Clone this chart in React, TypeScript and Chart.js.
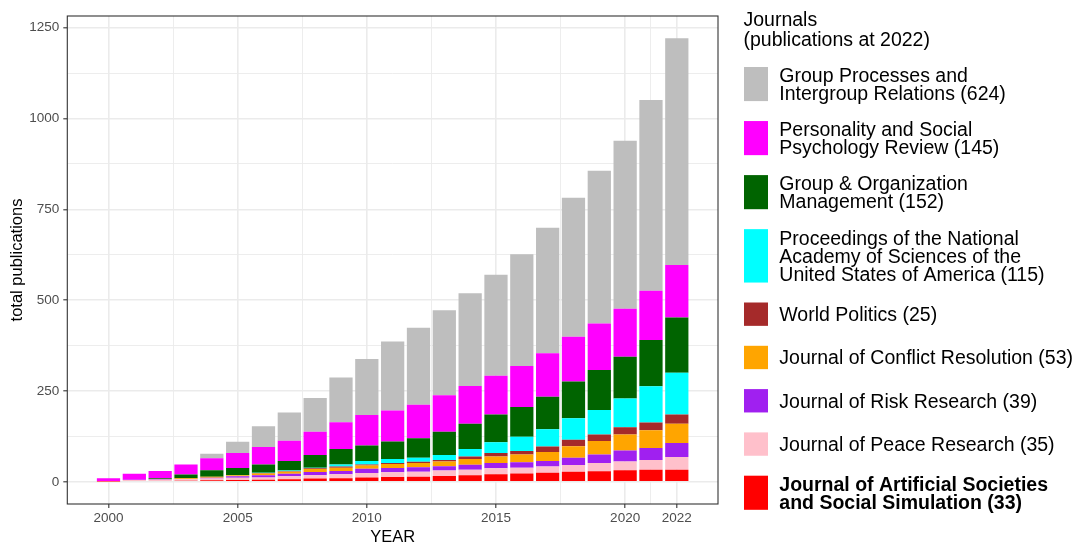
import React, { useEffect, useRef } from "react";
import { Chart, registerables } from "chart.js";

Chart.register(...registerables);

// ---------- data ----------
const years = [2000, 2001, 2002, 2003, 2004, 2005, 2006, 2007, 2008, 2009, 2010, 2011, 2012, 2013, 2014, 2015, 2016, 2017, 2018, 2019, 2020, 2021, 2022];

const jasss = [1, 2, 2, 3, 4, 5, 6, 7, 9, 10, 12, 13, 14, 16, 18, 21, 23, 25, 28, 29, 32, 33, 33];
const peaceResearch = [1, 3, 4, 4, 5, 6, 6, 8, 9, 11, 12, 13, 14, 15, 15, 16, 16, 17, 18, 23, 24, 27, 35];
const riskResearch = [0, 1, 1, 1, 2, 4, 6, 7, 9, 9, 12, 12, 12, 12, 14, 15, 15, 15, 20, 23, 30, 33, 39];
const conflictResolution = [0, 0, 1, 2, 3, 3, 5, 6, 8, 9, 9, 11, 12, 13, 16, 18, 21, 25, 32, 37, 44, 49, 53];
const worldPolitics = [0, 0, 0, 0, 0, 0, 1, 1, 2, 3, 3, 3, 3, 4, 7, 9, 10, 15, 18, 18, 20, 21, 25];
const pnas = [0, 0, 0, 0, 0, 1, 1, 2, 2, 6, 9, 11, 11, 14, 20, 30, 39, 48, 59, 68, 79, 100, 115];
const groupOrgMgmt = [0, 0, 2, 10, 18, 19, 23, 26, 35, 42, 43, 48, 54, 64, 70, 76, 82, 89, 101, 110, 115, 127, 152];
const pspr = [8, 16, 20, 28, 33, 41, 48, 56, 64, 74, 84, 85, 92, 100, 104, 107, 113, 120, 123, 128, 132, 136, 145];
const gpir = [0, 0, 0, 0, 12, 31, 57, 78, 93, 123, 154, 190, 212, 234, 255, 278, 307, 345, 383, 420, 463, 525, 624];

// series names (bottom of stack first), lines as shown in the legend
const seriesNames: string[][] = [
  ["Journal of Artificial Societies", "and Social Simulation"],
  ["Journal of Peace Research"],
  ["Journal of Risk Research"],
  ["Journal of Conflict Resolution"],
  ["World Politics"],
  ["Proceedings of the National", "Academy of Sciences of the", "United States of America"],
  ["Group & Organization", "Management"],
  ["Personality and Social", "Psychology Review"],
  ["Group Processes and", "Intergroup Relations"],
];
const seriesValues = [jasss, peaceResearch, riskResearch, conflictResolution, worldPolitics, pnas, groupOrgMgmt, pspr, gpir];

const xTickLabels = [2000, 2005, 2010, 2015, 2020, 2022];
const yTickLabels = [0, 250, 500, 750, 1000, 1250];

const xAxisTitle = "YEAR";
const yAxisTitle = "total publications";
const legendTitle = "Journals";

// ---------- styles ----------
const seriesColors = ["#FF0000", "#FFC0CB", "#A020F0", "#FFA500", "#A52A2A", "#00FFFF", "#006400", "#FF00FF", "#BEBEBE"];
const boldSeries = [true, false, false, false, false, false, false, false, false];
const FONT = "'Liberation Sans', Arial, sans-serif";

function midpoints(arr: number[]) {
  const out: number[] = [];
  for (let i = 0; i < arr.length - 1; i++) out.push((arr[i] + arr[i + 1]) / 2);
  return out;
}

const isIn = (arr: number[], v: number) => arr.some((a) => Math.abs(a - v) < 1e-6);

export default function App() {
  const ref = useRef<HTMLCanvasElement | null>(null);

  useEffect(() => {
    if (!ref.current) return;
    const xMinor = midpoints(xTickLabels);
    const yMinor = midpoints(yTickLabels);

    const xSpan = years[years.length - 1] - years[0] + 0.9;
    const xMin = years[0] - 0.45 - 0.05 * xSpan;
    const xMax = years[years.length - 1] + 0.45 + 0.05 * xSpan;
    const totals = years.map((_, i) => seriesValues.reduce((s, arr) => s + arr[i], 0));
    const yTop = Math.max(...totals);
    const yMin = -0.05 * yTop;
    const yMax = yTop * 1.05;

    const datasets = seriesValues.map((vals, k) => ({
      label: seriesNames[k].join(" "),
      data: years.map((y, i) => ({ x: y, y: vals[i] })),
      backgroundColor: seriesColors[k],
      borderWidth: 0,
      barPercentage: 0.9,
      categoryPercentage: 1,
    }));

    const overlay = {
      id: "ggOverlay",
      afterDatasetsDraw(chart: any) {
        const { ctx, chartArea } = chart;
        ctx.save();
        ctx.strokeStyle = "#333333";
        ctx.lineWidth = 1.1;
        ctx.strokeRect(chartArea.left, chartArea.top, chartArea.right - chartArea.left, chartArea.bottom - chartArea.top);
        ctx.restore();
      },
      afterDraw(chart: any) {
        const { ctx, chartArea } = chart;
        ctx.save();
        // axis titles
        ctx.fillStyle = "#000000";
        ctx.font = `16.5px ${FONT}`;
        ctx.textAlign = "center";
        ctx.textBaseline = "alphabetic";
        ctx.fillText(xAxisTitle, (chartArea.left + chartArea.right) / 2, 542);
        ctx.save();
        ctx.translate(21.5, (chartArea.top + chartArea.bottom) / 2);
        ctx.rotate(-Math.PI / 2);
        ctx.fillText(yAxisTitle, 0, 0);
        ctx.restore();

        // legend
        const lx = 743.5;
        ctx.textAlign = "left";
        ctx.font = `19.5px ${FONT}`;
        ctx.fillText(legendTitle, lx, 26);
        ctx.fillText(`(publications at ${years[years.length - 1]})`, lx, 45.5);

        const keyH: Record<number, number> = { 1: 23.35, 2: 34.1, 3: 53.4 };
        const gap = 19.95;
        const lineStep = 18;
        let top = 67;
        for (let k = seriesValues.length - 1; k >= 0; k--) {
          const vals = seriesValues[k];
          const lines = seriesNames[k].slice();
          lines[lines.length - 1] = `${lines[lines.length - 1]} (${vals[vals.length - 1]})`;
          const h = keyH[lines.length];
          ctx.fillStyle = seriesColors[k];
          ctx.fillRect(744, top, 24, h);
          const cy = top + h / 2;
          ctx.fillStyle = "#000000";
          ctx.font = `${boldSeries[k] ? "bold " : ""}19.5px ${FONT}`;
          lines.forEach((ln, j) => {
            const lc = cy + (j - (lines.length - 1) / 2) * lineStep;
            ctx.fillText(ln, 779.3, lc + 7);
          });
          top += h + gap;
        }
        ctx.restore();
      },
    };

    const chart = new Chart(ref.current, {
      type: "bar",
      data: { datasets: datasets as any },
      plugins: [overlay as any],
      options: {
        animation: false,
        responsive: false,
        devicePixelRatio: 1,
        layout: { padding: { top: 16, right: 360, left: 0, bottom: 0 } },
        plugins: { legend: { display: false }, tooltip: { enabled: false } },
        scales: {
          x: {
            type: "linear",
            stacked: true,
            offset: false,
            min: xMin,
            max: xMax,
            afterBuildTicks: (scale: any) => {
              scale.ticks = [...xTickLabels, ...xMinor].sort((a, b) => a - b).map((v) => ({ value: v }));
            },
            afterFit: (scale: any) => {
              scale.height = 40;
            },
            ticks: {
              autoSkip: false,
              maxRotation: 0,
              padding: 2.5,
              color: "#4D4D4D",
              font: { family: FONT, size: 13.5 },
              callback: (v: any) => (isIn(xTickLabels, Number(v)) ? String(v) : ""),
            },
            grid: {
              offset: false,
              color: "#EBEBEB",
              lineWidth: (c: any) => (c.tick && isIn(xTickLabels, c.tick.value) ? 1.6 : 0.9),
              tickColor: (c: any) => (c.tick && isIn(xTickLabels, c.tick.value) ? "#333333" : "rgba(0,0,0,0)"),
              tickWidth: 1.1,
              tickLength: 4,
              drawTicks: true,
            },
            border: { display: false },
          },
          y: {
            type: "linear",
            stacked: true,
            min: yMin,
            max: yMax,
            afterBuildTicks: (scale: any) => {
              scale.ticks = [...yTickLabels, ...yMinor].sort((a, b) => a - b).map((v) => ({ value: v }));
            },
            afterFit: (scale: any) => {
              scale.width = 67.3;
            },
            ticks: {
              autoSkip: false,
              padding: 4,
              color: "#4D4D4D",
              font: { family: FONT, size: 13.5 },
              callback: (v: any) => (isIn(yTickLabels, Number(v)) ? String(v) : ""),
            },
            grid: {
              color: "#EBEBEB",
              lineWidth: (c: any) => (c.tick && isIn(yTickLabels, c.tick.value) ? 1.6 : 0.9),
              tickColor: (c: any) => (c.tick && isIn(yTickLabels, c.tick.value) ? "#333333" : "rgba(0,0,0,0)"),
              tickWidth: 1.1,
              tickLength: 4,
              drawTicks: true,
            },
            border: { display: false },
          },
        },
      } as any,
    });
    return () => chart.destroy();
  }, []);

  return (
    <div style={{ position: "fixed", left: 0, top: 0, width: 1078, height: 544, background: "#ffffff" }}>
      <canvas ref={ref} width={1078} height={544} style={{ display: "block", width: 1078, height: 544 }} />
    </div>
  );
}
